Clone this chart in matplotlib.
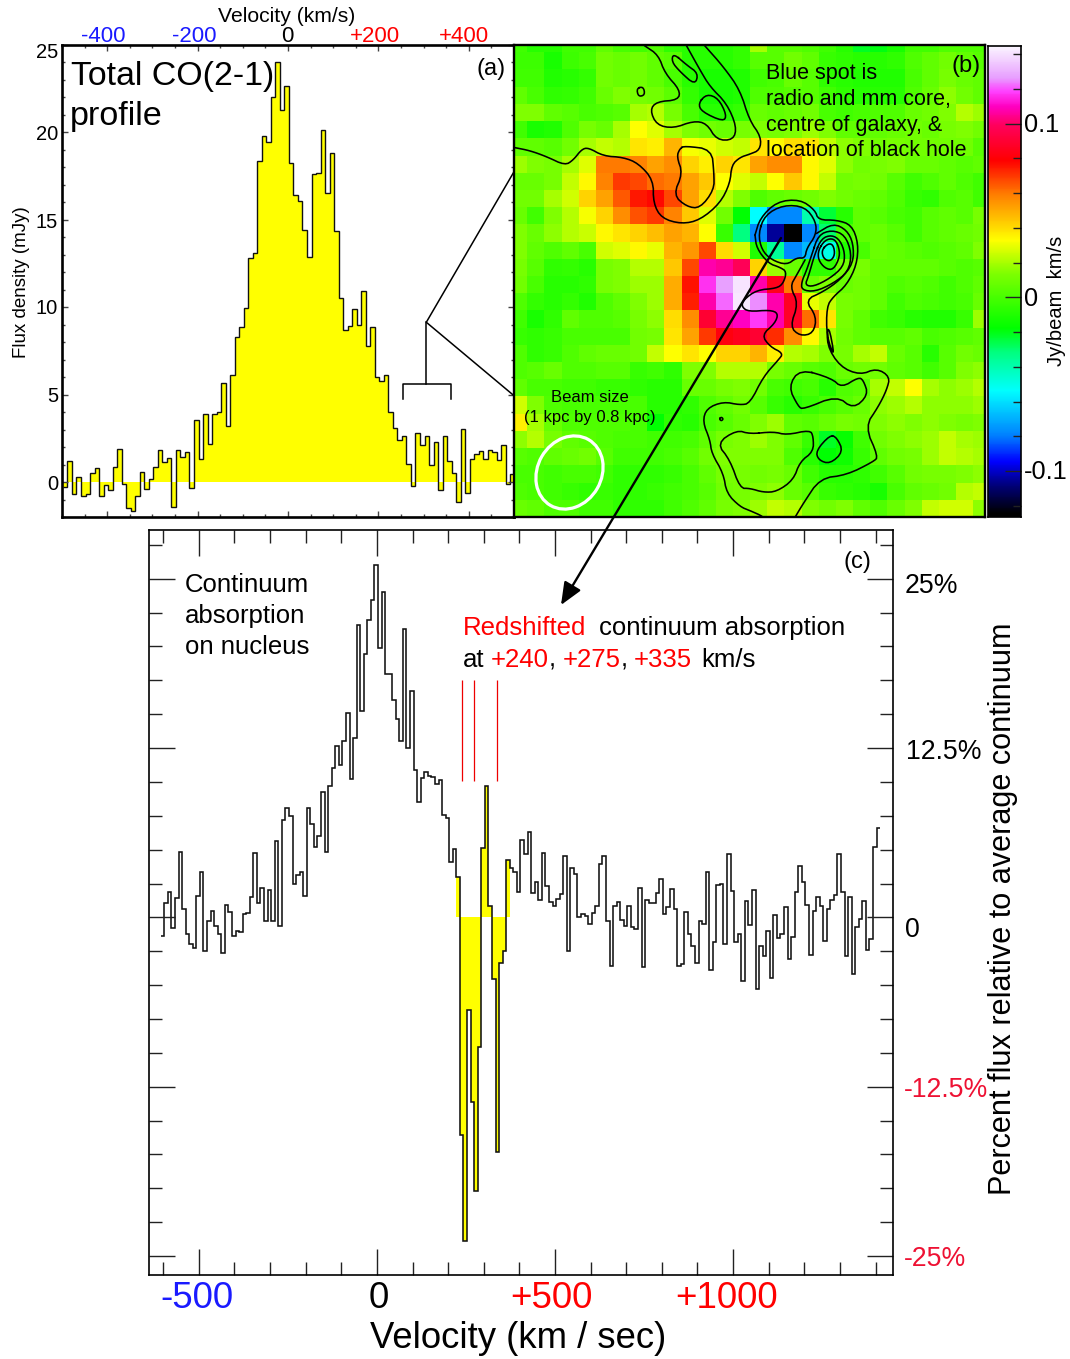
import matplotlib
matplotlib.use('Agg')
import matplotlib.pyplot as plt
import numpy as np
from matplotlib.colors import LinearSegmentedColormap
from matplotlib.patches import Ellipse, FancyArrowPatch
from matplotlib.ticker import MultipleLocator

plt.rcParams['font.family'] = ['Liberation Sans', 'DejaVu Sans']

W, H = 1070, 1359

# Panel (a): total CO(2-1) profile, 10 km/s channels
co_start = -498
co_flux = [
    -0.29, 1.22, -0.69, 0.3, -0.82, -0.67, 0.5, 0.8, -0.82, -0.17,
    -0.48, 0.88, 1.9, -0.13, -1.5, -1.64, -0.78, 0.55, -0.4, 0.19,
    0.84, 1.83, 1.13, 1.37, -1.41, 1.83, 1.45, 1.7, -0.32, 3.53,
    1.32, 3.91, 2.16, 3.87, 4.03, 5.65, 3.23, 6.11, 8.32, 8.89,
    9.98, 12.8, 13.1, 18.38, 19.77, 19.44, 22.0, 24.04, 21.27, 22.65,
    18.27, 16.44, 16.08, 14.44, 12.9, 17.6, 17.7, 20.13, 16.54, 18.8,
    14.38, 10.53, 8.7, 8.91, 9.87, 8.97, 10.95, 7.79, 8.89, 5.99,
    5.8, 6.11, 4.03, 3.09, 2.39, 2.61, 1.01, -0.23, 2.82, 2.1,
    2.61, 0.97, 2.27, -0.46, 2.61, 1.2, 0.52, -1.13, 3.05, -0.63,
    1.32, 1.6, 1.79, 1.32, 1.85, 1.7, 1.26, 2.12, -0.1, 0.46,
]

# Panel (c): continuum absorption on nucleus, 10 km/s channels
abs_start = -607
abs_flux = [
    -1.35, 1.06, 1.85, -0.79, 1.43, 4.8, 0.62, -1.26, -1.95, -2.29,
    1.6, 3.33, -2.51, -0.3, 0.47, -0.64, -1.23, -2.61, 0.91, 0.37,
    -1.38, -1.01, -1.08, 0.27, 0.34, 1.48, 4.75, 1.06, 2.19, -0.27,
    2.04, -0.3, 5.64, -0.62, 7.22, 8.08, 7.46, 2.49, 3.13, 3.35,
    1.55, 8.05, 6.87, 5.22, 5.99, 9.24, 4.8, 9.68, 11.03, 12.64,
    11.23, 13.0, 15.1, 10.22, 13.23, 21.6, 15.27, 19.48, 21.92, 23.45,
    26.0, 19.88, 24.0, 18.0, 18.0, 16.03, 14.68, 13.0, 21.28, 12.51,
    16.75, 10.86, 8.5, 10.27, 10.71, 10.42, 10.34, 9.88, 10.17, 7.56,
    7.32, 4.09, 5.05, 2.98, -16.03, -23.9, -6.8, -13.6, -20.2, -9.58,
    5.12, 9.7, 0.81, -4.53, -17.3, -3.37, -2.51, 4.26, 3.67, 3.37,
    1.9, 5.74, 4.66, 6.33, 1.8, 2.64, 1.28, 4.75, 2.34, 1.11,
    0.81, 1.38, 1.7, 4.51, -2.51, 3.65, 3.18, 0.05, 0.22, 0.1,
    -0.47, 0.32, 0.84, 3.94, 4.51, -0.25, -3.6, 0.81, 1.16, -0.17,
    -0.62, 0.84, -0.69, -0.84, 2.14, -3.65, 1.31, 1.06, 1.06, 1.82,
    2.83, 0.27, 0.76, 2.12, 0.62, -3.62, -3.45, 0.37, -1.23, -2.14,
    -3.4, -0.3, -0.47, 3.35, -3.87, -1.85, 2.36, 2.49, -1.95, 4.66,
    1.92, -1.8, -1.23, -4.73, 1.21, -0.54, 2.02, -5.25, -2.09, -2.83,
    -1.01, -4.48, 0.17, -1.55, -1.26, 0.74, -3.08, -1.45, 1.87, 3.79,
    2.59, 0.94, -2.81, 0.47, 1.48, 0.84, -1.77, 0.59, 1.31, 1.63,
    4.66, 1.9, -2.86, 1.48, -4.19, -0.74, -0.1, 1.23, -2.44, -1.58,
    5.2, 6.63,
]
abs_fill_range = (220, 374)
red_lines = [240, 272, 338]

# Panel (b): map, in units of 0.001 Jy/beam km/s
co_map = [
    [-2, -8, -8, -2, -2, 6, 0, -2, 2, -6, -8, -8, -8, -5, 20, 4, 4, 2, -2, -8, -22, -20, -12, -2, -2, 2, 2, 2],
    [-3, -3, -12, -3, 0, 10, 8, 10, 6, 4, -8, -8, -8, -5, 4, 4, 10, 6, -4, -6, -8, -8, -6, 2, 6, 10, 6, 4],
    [-2, -2, -10, -8, -5, 10, 8, 10, 6, 0, -8, -12, -12, -10, -2, 0, 8, 4, -6, -8, -10, -10, -10, 0, 6, 12, 8, 6],
    [6, 0, -6, -5, -2, 8, 14, 12, 10, 5, -5, -12, -12, -10, 2, 2, 4, 4, -2, -6, -8, -8, -8, 2, 8, 16, 10, 6],
    [14, 14, 6, 4, 0, 2, 4, 20, 22, 12, 0, -8, -8, -5, 8, 6, 8, 10, 0, -2, 0, 2, 2, 8, 10, 14, 22, 18],
    [-2, -12, -10, 2, 12, 8, 20, 33, 28, 20, 14, 10, 8, 12, 14, 12, 14, 18, 14, 6, 6, 6, 8, 10, 8, 12, 14, 10],
    [6, 6, 4, 10, 20, 24, 22, 38, 36, 48, 32, 30, 26, 24, 38, 34, 40, 38, 24, 16, 14, 10, 12, 10, 10, 10, 10, 4],
    [18, 14, 12, 20, 28, 60, 60, 58, 52, 56, 42, 36, 42, 38, 52, 56, 56, 34, 28, 16, 10, 12, 14, 8, 8, 6, 4, 6],
    [8, 8, 12, 24, 34, 58, 70, 68, 62, 60, 52, 44, 33, 28, 24, 33, 44, 34, 24, 10, 12, 10, 4, -2, 2, 6, 2, -2],
    [10, 10, 20, 26, 42, 52, 65, 75, 78, 68, 52, 40, 22, 14, 2, 6, 8, 10, 14, 10, 8, 6, 2, -4, -6, 2, 4, -2],
    [8, -2, 14, 22, 32, 42, 56, 66, 70, 58, 44, 28, 10, -18, -54, -78, -78, -40, -24, -8, 6, 4, 0, -2, 4, 6, 4, 12],
    [14, 8, 16, 22, 25, 34, 38, 42, 46, 52, 48, 33, -4, -32, -78, -105, -125, -78, -30, 0, 6, 8, 4, -2, 4, 6, 8, 10],
    [14, 6, 2, 6, 0, 26, 28, 34, 30, 48, 54, 68, 40, 26, -10, -36, -78, -68, -50, -10, 0, 8, 6, 4, 2, 4, 6, 14],
    [12, 4, -6, -5, -8, 12, 14, 22, 22, 44, 68, 108, 105, 98, 42, 18, 8, -6, -6, 10, 12, 6, 6, 6, 6, 4, 2, 4],
    [10, 0, -8, -8, -6, 12, 14, 18, 18, 50, 76, 117, 127, 141, 108, 85, 60, 8, 14, 8, 10, 6, 2, 4, 2, -2, 2, 6],
    [2, -5, -8, -5, -10, 2, 6, 14, 18, 50, 74, 108, 122, 142, 125, 108, 86, 30, 24, 12, 10, 6, -2, 2, 0, -2, 0, 8],
    [-2, -12, -6, 6, 2, 2, 4, 12, 16, 40, 56, 90, 105, 110, 118, 108, 88, 62, 38, 12, 6, -2, -4, -8, -10, -10, -4, 18],
    [-4, -6, -4, 0, 0, 0, 0, 10, 12, 38, 52, 70, 82, 85, 90, 72, 56, 34, 20, 10, 6, 4, 4, 6, 0, 2, 4, 6],
    [2, -6, -4, 2, 6, 8, 8, 10, 24, 33, 38, 33, 42, 42, 48, 36, 22, 20, 14, 12, 20, 24, 8, 4, -8, 4, 10, 8],
    [2, 4, 8, 2, 2, 4, 4, -4, -2, -6, 14, 14, 22, 22, 22, 12, 8, 4, 2, 8, 10, 10, 6, 4, -2, 4, 14, 16],
    [6, 0, 0, -2, -2, -4, -4, -6, -8, -8, 8, 8, 12, 14, 10, 0, -2, 0, -8, 2, 4, 20, 24, 33, 20, 16, 18, 22],
    [26, 14, 2, 0, 0, 0, 0, 0, -8, -8, -6, 2, 6, 10, 4, -4, -8, -4, 0, 4, 8, 16, 18, 22, 16, 16, 16, 18],
    [36, 20, 8, 2, 2, 2, 2, 0, -18, -6, -8, 0, 4, 8, 14, 18, 6, 4, 8, 12, 10, 14, 16, 14, 16, 14, 12, 14],
    [16, 22, 12, 6, 4, 2, 0, 0, -2, -2, 0, 6, 12, 14, 18, 14, 6, -4, -22, -16, -2, 10, 14, 16, 18, 24, 20, 18],
    [4, 2, 6, 8, 10, 4, -2, -2, -2, 0, 4, 10, 14, 14, 14, 14, 2, -8, -18, -14, -4, 6, 10, 12, 18, 24, 22, 20],
    [0, 0, -2, 0, 0, -2, -6, -6, -6, -4, 0, 6, 12, 12, 10, 12, 8, -2, -8, -8, -6, -2, 4, 10, 12, 12, 14, 16],
    [2, 0, -2, -4, -6, -4, -6, -6, -4, -2, 0, 4, 10, 12, 14, 16, 8, 4, -4, -6, -8, -12, 0, 6, 8, 10, 22, 24],
    [8, 6, 2, 2, -2, -2, -6, -6, -6, -2, 2, 6, 12, 14, 18, 24, 22, 14, 10, 14, 6, 2, 8, 14, 24, 26, 26, 16],
]

# colour scale of the map: value (0.001 Jy/beam km/s) -> colour
cmap_values = [-125, -108, -95, -80, -54, -32, -18, 14, 33, 59, 79, 100, 110, 119, 127, 145]
cmap_colors = ['#000000', '#000080', '#0000ff', '#0080ff', '#00ffff', '#00ff80', '#00ff00', '#80ff00',
               '#ffff00', '#ff8000', '#ff0000', '#ff0060', '#ff00c0', '#ff40ff', '#e8a0ff', '#fbf6ff']

# contours as (x, y) in reference pixels of the crops they were traced on
c3 = (510, 40)
c4 = (750, 40)
c5 = (510, 280)
c6 = (750, 280)
c12 = (690, 190)


def crop_pts(origin, pts):
    return [(origin[0] + x / 3, origin[1] + y / 3) for x, y in pts]


contour_open = [
    crop_pts(c3, [(15, 323), (60, 332), (110, 350), (165, 376), (190, 360), (215, 328), (235, 323), (280, 348),
                  (340, 352), (385, 370), (430, 420), (430, 490), (455, 535), (515, 552), (570, 540), (630, 490),
                  (660, 430), (665, 375), (690, 352), (718, 343), (750, 330), (753, 290), (718, 240), (690, 150),
                  (640, 80), (585, 18)]),
    crop_pts(c3, [(405, 18), (445, 45), (465, 100), (510, 150), (505, 180), (440, 185), (420, 210), (440, 255),
                  (490, 265), (550, 243), (590, 250), (620, 300), (670, 300), (680, 260), (650, 190), (600, 140),
                  (570, 90), (530, 18)]),
    crop_pts(c12, [(195, 135), (210, 85), (260, 35), (330, 28), (375, 60), (385, 90), (440, 90), (485, 105),
                   (505, 160), (500, 225), (470, 285), (430, 320), (410, 350), (410, 440), (435, 505)])
    + crop_pts(c6, [(235, 130), (230, 195), (270, 260), (330, 285), (380, 265), (420, 290), (410, 330), (385, 380),
                    (345, 440), (385, 530), (370, 545), (290, 585), (210, 595), (160, 670), (135, 712)]),
    crop_pts(c12, [(195, 135), (200, 175), (235, 220), (270, 232), (290, 245), (280, 280), (260, 295), (200, 300),
                   (160, 330), (155, 350), (175, 365), (240, 360), (265, 370), (255, 400), (215, 435), (240, 470),
                   (280, 490), (265, 510)])
    + crop_pts(c6, [(40, 290), (0, 370)])
    + crop_pts(c5, [(690, 375), (640, 365), (590, 385), (578, 425), (600, 480), (605, 520), (640, 580), (650, 640),
                    (690, 680), (720, 692), (750, 705), (760, 712)]),
    crop_pts(c12, [(380, 130), (430, 100), (470, 120), (490, 160), (490, 220), (450, 270), (400, 305), (345, 330),
                   (380, 380), (370, 430), (330, 438), (300, 410), (325, 340), (300, 290), (320, 255), (345, 210)]),
]
contour_closed = [
    crop_pts(c3, [(490, 40), (530, 75), (565, 100), (555, 135), (510, 95), (485, 65)]),
    crop_pts(c3, [(380, 145), (400, 140), (405, 165), (385, 170)]),
    crop_pts(c3, [(565, 190), (590, 162), (625, 175), (650, 225), (640, 245), (575, 215)]),
    crop_pts(c3, [(510, 325), (525, 318), (605, 328), (612, 400), (612, 450), (570, 505), (530, 500), (490, 465),
                  (518, 400), (500, 350)]),
    crop_pts(c12, [(205, 130), (225, 75), (280, 45), (345, 50), (378, 95), (378, 135), (350, 175), (345, 205),
                   (320, 203), (290, 225), (245, 210), (215, 180)]),
    crop_pts(c12, [(365, 195), (385, 135), (425, 120), (465, 135), (485, 190), (475, 245), (430, 280), (375, 305),
                   (335, 300), (335, 275), (350, 240)]),
    crop_pts(c12, [(375, 190), (395, 145), (425, 135), (450, 150), (465, 190), (460, 230), (420, 265), (370, 290),
                   (345, 285), (355, 260)]),
    crop_pts(c12, [(385, 180), (405, 150), (430, 145), (445, 165), (450, 200), (430, 240), (405, 235), (385, 210)]),
    crop_pts(c12, [(395, 180), (415, 160), (430, 165), (435, 195), (420, 215), (400, 205)]),
    crop_pts(c6, [(0, 462), (70, 455), (110, 465), (180, 450), (190, 470), (190, 515), (150, 545), (130, 600),
                  (80, 635), (40, 637), (0, 625), (-30, 625), (-60, 540), (-100, 490), (-40, 450)]),
    crop_pts(c6, [(150, 267), (245, 295), (275, 323), (325, 292), (340, 300), (355, 345), (310, 387), (260, 347),
                  (160, 388), (145, 380), (115, 320)]),
    crop_pts(c6, [(240, 465), (260, 472), (280, 515), (240, 552), (205, 540), (198, 512)]),
    crop_pts(c5, [(628, 417), (634, 411), (640, 417), (634, 423)]),
]


def smooth(pts, closed=False, rounds=2):
    # corner cutting so the traced contours come out round
    p = np.array(pts, dtype=float)
    for _ in range(rounds):
        if closed:
            q = np.roll(p, -1, axis=0)
            p = np.column_stack([0.75 * p + 0.25 * q, 0.25 * p + 0.75 * q]).reshape(-1, 2)
        else:
            a, b = p[:-1], p[1:]
            mid = np.column_stack([0.75 * a + 0.25 * b, 0.25 * a + 0.75 * b]).reshape(-1, 2)
            p = np.vstack([p[0], mid, p[-1]])
    if closed:
        p = np.vstack([p, p[0]])
    return p


def axes_px(fig, x0, y0, x1, y1):
    return fig.add_axes([x0 / W, 1 - y1 / H, (x1 - x0) / W, (y1 - y0) / H])


fig = plt.figure(figsize=(W / 100, H / 100), dpi=100)


def label(px, py, s, size, color='black', ha='center', va='center', rotation=0, **kw):
    # matplotlib centres on the box with descender, nudge it onto the reference
    if rotation:
        px += 2
    else:
        py += 2
    fig.text(px / W, 1 - py / H, s, fontsize=size, color=color, ha=ha, va=va, rotation=rotation, **kw)


# ----- panel (a)
ax_a = axes_px(fig, 62, 45, 514, 517)
edges_a = co_start + 10 * np.arange(len(co_flux) + 1)
ax_a.stairs(co_flux, edges_a, baseline=0, fill=True, color='#ffff00', lw=0)
ax_a.stairs(co_flux, edges_a, baseline=None, color='#111111', lw=1.0)
ax_a.set_xlim(-500, 500)
ax_a.set_ylim(-2, 25)
ax_a.xaxis.set_major_locator(MultipleLocator(200))
ax_a.xaxis.set_minor_locator(MultipleLocator(50))
ax_a.yaxis.set_major_locator(MultipleLocator(5))
ax_a.yaxis.set_minor_locator(MultipleLocator(1))
ax_a.tick_params(which='major', direction='in', top=True, right=True, length=4, width=1, color='#444444',
                 labelleft=False, labelbottom=False)
ax_a.tick_params(which='minor', direction='in', top=True, right=True, length=2.5, width=1, color='#444444')
for s in ax_a.spines.values():
    s.set_linewidth(1.9)
# bracket marking the channels of the map
ax_a.plot([255, 255, 361, 361], [4.75, 5.6, 5.6, 4.75], color='black', lw=1.1)
ax_a.plot([306, 306], [5.6, 9.14], color='black', lw=1.1)
ax_a.plot([500, 306, 500], [17.75, 9.14, 4.94], color='black', lw=1.1)

for v, py in zip(['25', '20', '15', '10', '5', '0'], [50, 132, 220, 307, 395, 482]):
    label(58, py, v, 14.5, ha='right')
for v, px, col in zip(['-400', '-200', '0', '+200', '+400'], [103, 194, 287, 375, 464],
                      ['#1a1aff', '#1a1aff', 'black', '#ff0000', '#ff0000']):
    label(px, 35, v, 16, color=col)
label(287, 14, 'Velocity (km/s)', 15.2)
label(20, 282, 'Flux density (mJy)', 13.5, rotation=90)
label(71, 74, 'Total CO(2-1)', 24.4, ha='left')
label(70, 114, 'profile', 24.6, ha='left')
label(491, 67, '(a)', 17)

# ----- panel (b), axes run in reference pixels because the contours were traced that way
ax_b = axes_px(fig, 514, 45, 985, 517)
cmap = LinearSegmentedColormap.from_list(
    'co', [((v - cmap_values[0]) / (cmap_values[-1] - cmap_values[0]), c) for v, c in zip(cmap_values, cmap_colors)],
    N=512)
ax_b.imshow(np.array(co_map), cmap=cmap, vmin=cmap_values[0], vmax=cmap_values[-1], aspect='auto',
            interpolation='nearest', extent=(510.15, 990.35, 516.7, 35.1))
for pts in contour_open:
    p = smooth(pts)
    ax_b.plot(p[:, 0], p[:, 1], color='black', lw=1.15)
for pts in contour_closed:
    p = smooth(pts, closed=True)
    ax_b.plot(p[:, 0], p[:, 1], color='black', lw=1.15)
ax_b.add_patch(Ellipse((569.5, 472.5), 76, 64, angle=-60, fill=False, edgecolor='white', lw=2.3))
ax_b.set_xlim(514, 985)
ax_b.set_ylim(517, 45)
ax_b.set_xticks([])
ax_b.set_yticks([])
for s in ax_b.spines.values():
    s.set_linewidth(1.7)
for line, py in zip(['Blue spot is', 'radio and mm core,', 'centre of galaxy, &', 'location of black hole'],
                    [72, 98, 123, 149]):
    label(766, py, line, 15.5, ha='left')
label(966, 64, '(b)', 17)
label(590, 396, 'Beam size', 12)
label(590, 416, '(1 kpc by 0.8 kpc)', 12)

# ----- colour bar
ax_cb = axes_px(fig, 988, 46, 1021, 517)
cb_low, cb_high = -0.1265, 0.1447
gradient = np.linspace(cb_high, cb_low, 471)[:, None] * 1000
ax_cb.imshow(gradient, cmap=cmap, vmin=cmap_values[0], vmax=cmap_values[-1], aspect='auto',
             extent=(0, 1, cb_low, cb_high))
ax_cb.set_xticks([])
ax_cb.yaxis.tick_right()
ax_cb.yaxis.set_major_locator(MultipleLocator(0.1))
ax_cb.yaxis.set_minor_locator(MultipleLocator(0.02))
ax_cb.tick_params(which='major', direction='in', length=11.5, width=1, labelright=False, color='#222222')
ax_cb.tick_params(which='minor', direction='in', length=6, width=1, color='#222222')
ax_cb.set_ylim(cb_low, cb_high)
for s in ax_cb.spines.values():
    s.set_linewidth(1.2)
label(1024, 123, '0.1', 18.3, ha='left')
label(1024, 297, '0', 18.3, ha='left')
label(1024, 470, '-0.1', 18.3, ha='left')
label(1054, 301, 'Jy/beam  km/s', 14.5, rotation=90)

# ----- panel (c)
ax_c = axes_px(fig, 149, 530, 893, 1275)
edges_c = abs_start + 10 * np.arange(len(abs_flux) + 1)
flux_c = np.array(abs_flux)
in_fill = np.where((edges_c[:-1] >= abs_fill_range[0]) & (edges_c[1:] <= abs_fill_range[1] + 5))[0]
ax_c.stairs(flux_c[in_fill], edges_c[in_fill[0]:in_fill[-1] + 2], baseline=0, fill=True, color='#ffff00', lw=0)
ax_c.stairs(flux_c, edges_c, baseline=None, color='#111111', lw=1.15)
ax_c.vlines(red_lines, 10.04, 17.5, color='#ee0000', lw=0.9)
ax_c.set_xlim(-640, 1449)
ax_c.set_ylim(-26.4, 28.6)
ax_c.xaxis.set_major_locator(MultipleLocator(500))
ax_c.xaxis.set_minor_locator(MultipleLocator(100))
ax_c.yaxis.set_major_locator(MultipleLocator(12.5))
ax_c.yaxis.set_minor_locator(MultipleLocator(2.5))
ax_c.tick_params(which='major', direction='in', top=True, right=True, length=19, width=1, color='#222222',
                 labelleft=False, labelbottom=False)
ax_c.tick_params(which='minor', direction='in', top=True, right=True, length=9.5, width=1, color='#222222')
for s in ax_c.spines.values():
    s.set_linewidth(1.2)

for v, px, col in zip(['-500', '0', '+500', '+1000'], [197, 379, 551, 727],
                      ['#1a1aff', 'black', '#ff0000', '#ff0000']):
    label(px, 1296, v, 26.5, color=col)
label(518, 1337, 'Velocity (km / sec)', 26.3)
label(905, 584, '25%', 19.2, ha='left')
label(906, 750, '12.5%', 19.2, ha='left')
label(905, 928, '0', 19.2, ha='left')
label(904, 1088, '-12.5%', 19.2, color='#ee1133', ha='left')
label(904, 1257, '-25%', 19.2, color='#ee1133', ha='left')
label(1001, 909, 'Percent flux relative to average continuum', 22.1, rotation=90)
for line, py in zip(['Continuum', 'absorption', 'on nucleus'], [583, 614, 645]):
    label(185, py, line, 18.5, ha='left')
label(857, 560, '(c)', 17)
label(463, 626, 'Redshifted', 18.5, color='#ff0000', ha='left')
label(599, 626, 'continuum absorption', 18.5, ha='left')
for s, px, col in zip(['at', '+240', ',', '+275', ',', '+335', 'km/s'], [463, 491, 549, 563, 621, 634, 701],
                      ['black', '#ff0000', 'black', '#ff0000', 'black', '#ff0000', 'black']):
    label(px, 658, s, 18.5, color=col, ha='left')

# pointer from the nucleus in (b) to the label in (c), drawn across the panels
fig.add_artist(FancyArrowPatch((781 / W, 1 - 238 / H), (561 / W, 1 - 605 / H), transform=fig.transFigure,
                               arrowstyle='-|>,head_length=0.85,head_width=0.36', mutation_scale=16,
                               color='black', lw=1.7, shrinkA=0, shrinkB=0))

fig.savefig('out.png', dpi=100)
plt.close(fig)
